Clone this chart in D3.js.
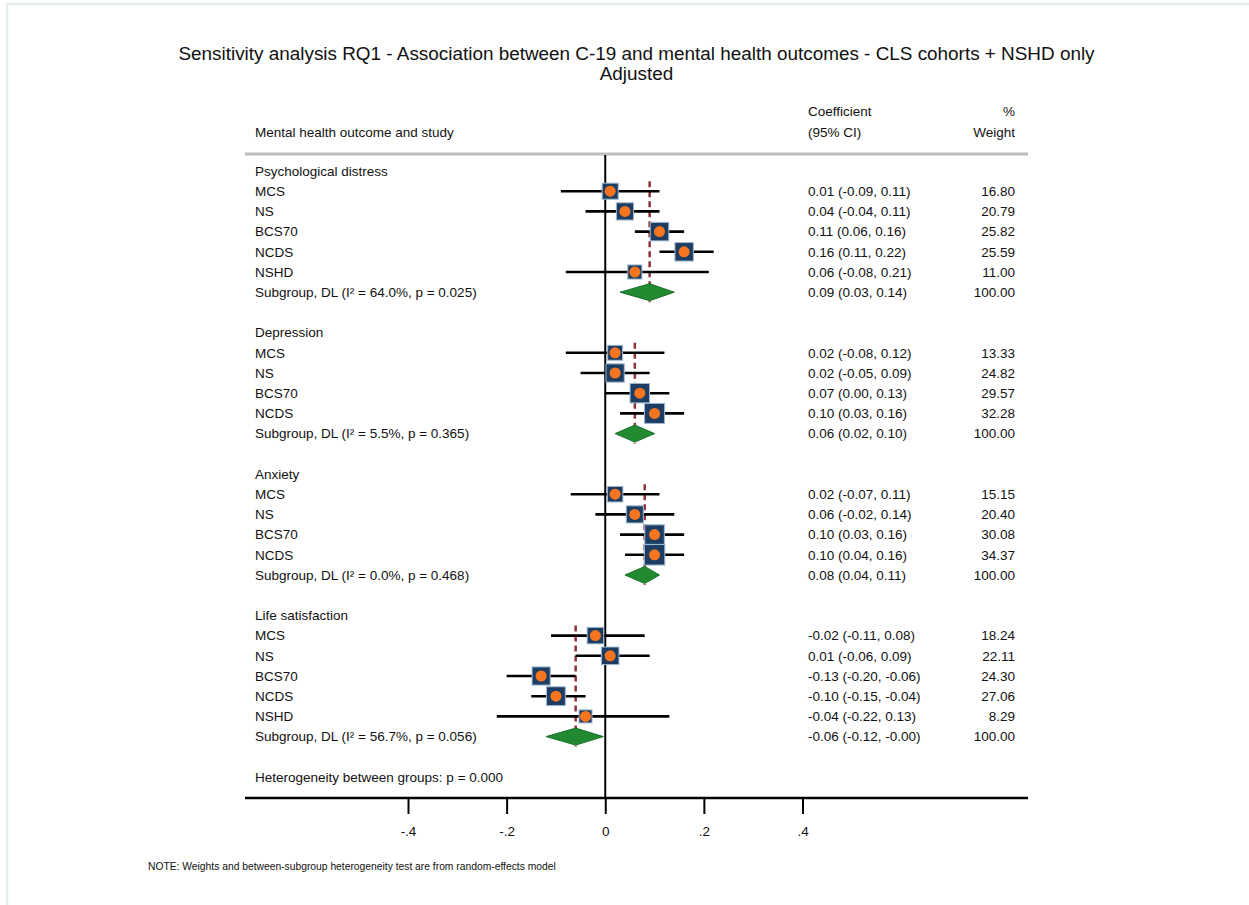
<!DOCTYPE html>
<html>
<head>
<meta charset="utf-8">
<script src="https://cdn.jsdelivr.net/npm/d3@7"></script>
<style>
  html, body { margin: 0; padding: 0; background: #fff; }
  svg { display: block; }
  text { font-family: "Liberation Sans", Arial, Helvetica, sans-serif; fill: #111; }
</style>
</head>
<body>
<svg id="chart" width="1249" height="905"></svg>
<script>
// ---- data -------------------------------------------------------------
const outcomes = ["Psychological distress", "Depression", "Anxiety", "Life satisfaction"];

const studies = [
  ["MCS", "NS", "BCS70", "NCDS", "NSHD"],
  ["MCS", "NS", "BCS70", "NCDS"],
  ["MCS", "NS", "BCS70", "NCDS"],
  ["MCS", "NS", "BCS70", "NCDS", "NSHD"]
];

const coef = [
  [0.01, 0.04, 0.11, 0.16, 0.06],
  [0.02, 0.02, 0.07, 0.10],
  [0.02, 0.06, 0.10, 0.10],
  [-0.02, 0.01, -0.13, -0.10, -0.04]
];

const ciLow = [
  [-0.09, -0.04, 0.06, 0.11, -0.08],
  [-0.08, -0.05, 0.00, 0.03],
  [-0.07, -0.02, 0.03, 0.04],
  [-0.11, -0.06, -0.20, -0.15, -0.22]
];

const ciHigh = [
  [0.11, 0.11, 0.16, 0.22, 0.21],
  [0.12, 0.09, 0.13, 0.16],
  [0.11, 0.14, 0.16, 0.16],
  [0.08, 0.09, -0.06, -0.04, 0.13]
];

const weights = [
  [16.80, 20.79, 25.82, 25.59, 11.00],
  [13.33, 24.82, 29.57, 32.28],
  [15.15, 20.40, 30.08, 34.37],
  [18.24, 22.11, 24.30, 27.06, 8.29]
];

const poolCoef = [0.09, 0.06, 0.08, -0.06];
const poolLow  = [0.03, 0.02, 0.04, -0.12];
const poolHigh = [0.14, 0.10, 0.11, -0.004];
const poolI2   = ["64.0%", "5.5%", "0.0%", "56.7%"];
const poolP    = ["0.025", "0.365", "0.468", "0.056"];

const betweenP = "0.000";

const xTicks = [-0.4, -0.2, 0, 0.2, 0.4];
const xTickLabels = ["-.4", "-.2", "0", ".2", ".4"];

const titleLines = [
  "Sensitivity analysis RQ1 - Association between C-19 and mental health outcomes - CLS cohorts + NSHD only",
  "Adjusted"
];
const note = "NOTE: Weights and between-subgroup heterogeneity test are from random-effects model";

// ---- layout -----------------------------------------------------------
const svg = d3.select("#chart");
const W = 1249, H = 905;

const left = 245, right = 1028;
const labelX = 255, ciTextX = 808, weightX = 1015;
const axisY = 798;

const x = d3.scaleLinear().domain([-0.4, 0.4]).range([408, 802.5]);

// build the list of table rows
const rows = [];
outcomes.forEach((o, g) => {
  rows.push({ type: "header", label: o });
  studies[g].forEach((s, i) => {
    rows.push({ type: "study", g, label: s, est: coef[g][i], lo: ciLow[g][i], hi: ciHigh[g][i], w: weights[g][i] });
  });
  rows.push({ type: "pool", g, label: `Subgroup, DL (I\u00B2 = ${poolI2[g]}, p = ${poolP[g]})`,
              est: poolCoef[g], lo: poolLow[g], hi: poolHigh[g], w: 100 });
  rows.push({ type: "blank" });
});
rows.push({ type: "het", label: `Heterogeneity between groups: p = ${betweenP}` });
rows.forEach((r, i) => r.idx = i);

const y = d3.scaleLinear().domain([0, rows.length - 1]).range([171, 777]);

const boxSide = d3.scaleLinear().domain([Math.sqrt(8.29), Math.sqrt(34.37)]).range([13, 20.5]);
const fmt = v => v.toFixed(2);
const fmtW = v => v.toFixed(2);

const fontSize = 13.5;

// ---- page frame -------------------------------------------------------
svg.append("line").attr("x1", 6).attr("x2", W).attr("y1", 4).attr("y2", 4)
  .attr("stroke", "#e4ecef").attr("stroke-width", 2.5);
svg.append("line").attr("x1", 7).attr("x2", 7).attr("y1", 4).attr("y2", H)
  .attr("stroke", "#e4ecef").attr("stroke-width", 2.5);

// ---- title ------------------------------------------------------------
svg.append("text").attr("x", 636.5).attr("y", 60).attr("text-anchor", "middle")
  .style("font-size", "18.9px").text(titleLines[0]);
svg.append("text").attr("x", 636.5).attr("y", 80).attr("text-anchor", "middle")
  .style("font-size", "18.9px").text(titleLines[1]);

// ---- column headers ---------------------------------------------------
const hdr = svg.append("g").style("font-size", fontSize + "px");
hdr.append("text").attr("x", labelX).attr("y", 132).attr("dy", "0.35em").text("Mental health outcome and study");
hdr.append("text").attr("x", ciTextX).attr("y", 111).attr("dy", "0.35em").text("Coefficient");
hdr.append("text").attr("x", ciTextX).attr("y", 132).attr("dy", "0.35em").text("(95% CI)");
hdr.append("text").attr("x", weightX).attr("y", 111).attr("dy", "0.35em").attr("text-anchor", "end").text("%");
hdr.append("text").attr("x", weightX).attr("y", 132).attr("dy", "0.35em").attr("text-anchor", "end").text("Weight");

svg.append("line").attr("x1", left).attr("x2", right).attr("y1", 154).attr("y2", 154)
  .attr("stroke", "#bdbdbd").attr("stroke-width", 3);

// ---- zero line --------------------------------------------------------
svg.append("line").attr("x1", x(0)).attr("x2", x(0)).attr("y1", 155).attr("y2", axisY)
  .attr("stroke", "#000").attr("stroke-width", 2);

// ---- pooled estimate reference lines ------------------------------------
outcomes.forEach((o, g) => {
  const first = rows.find(r => r.type === "study" && r.g === g);
  const pool = rows.find(r => r.type === "pool" && r.g === g);
  svg.append("line")
    .attr("x1", x(poolCoef[g])).attr("x2", x(poolCoef[g]))
    .attr("y1", y(first.idx) - 10).attr("y2", y(pool.idx) + 10)
    .attr("stroke", "#8e3438").attr("stroke-width", 2.5)
    .attr("stroke-dasharray", "6,4");
});

// ---- study rows: CI line, weighted box, point -------------------------
const studyRows = rows.filter(r => r.type === "study");
const marks = svg.append("g");
marks.selectAll("line.ci").data(studyRows).join("line").attr("class", "ci")
  .attr("x1", d => x(d.lo)).attr("x2", d => x(d.hi))
  .attr("y1", d => y(d.idx)).attr("y2", d => y(d.idx))
  .attr("stroke", "#000").attr("stroke-width", 2.6);
marks.selectAll("rect.box").data(studyRows).join("rect").attr("class", "box")
  .attr("x", d => x(d.est) - boxSide(Math.sqrt(d.w)) / 2)
  .attr("y", d => y(d.idx) - boxSide(Math.sqrt(d.w)) / 2)
  .attr("width", d => boxSide(Math.sqrt(d.w)))
  .attr("height", d => boxSide(Math.sqrt(d.w)))
  .attr("fill", "#1d3d63").attr("stroke", "#9fbad3").attr("stroke-width", 1);
marks.selectAll("circle.pt").data(studyRows).join("circle").attr("class", "pt")
  .attr("cx", d => x(d.est)).attr("cy", d => y(d.idx)).attr("r", 5.5)
  .attr("fill", "#f7751f");

// ---- pooled diamonds --------------------------------------------------
const poolRows = rows.filter(r => r.type === "pool");
marks.selectAll("path.diamond").data(poolRows).join("path").attr("class", "diamond")
  .attr("d", d => {
    const cy = y(d.idx), h = 8.5;
    return `M${x(d.lo)},${cy} L${x(d.est)},${cy - h} L${x(d.hi)},${cy} L${x(d.est)},${cy + h} Z`;
  })
  .attr("fill", "#218a31").attr("stroke", "#17702a").attr("stroke-width", 1);

// ---- text columns -----------------------------------------------------
const txt = svg.append("g").style("font-size", fontSize + "px");
txt.selectAll("text.lab").data(rows.filter(r => r.label)).join("text").attr("class", "lab")
  .attr("x", labelX).attr("y", d => y(d.idx)).attr("dy", "0.35em").text(d => d.label);

const valRows = rows.filter(r => r.type === "study" || r.type === "pool");
txt.selectAll("text.ci").data(valRows).join("text").attr("class", "ci")
  .attr("x", ciTextX).attr("y", d => y(d.idx)).attr("dy", "0.35em")
  .text(d => `${fmt(d.est)} (${fmt(d.lo)}, ${fmt(d.hi)})`);
txt.selectAll("text.w").data(valRows).join("text").attr("class", "w")
  .attr("x", weightX).attr("y", d => y(d.idx)).attr("dy", "0.35em").attr("text-anchor", "end")
  .text(d => fmtW(d.w));

// ---- x axis -----------------------------------------------------------
svg.append("line").attr("x1", left).attr("x2", right).attr("y1", axisY).attr("y2", axisY)
  .attr("stroke", "#000").attr("stroke-width", 2.6);
const axis = svg.append("g").attr("transform", `translate(0,${axisY})`)
  .call(d3.axisBottom(x).tickValues(xTicks).tickSize(16).tickPadding(12)
        .tickFormat((d, i) => xTickLabels[i]));
axis.select(".domain").remove();
axis.selectAll(".tick line").attr("stroke", "#000").attr("stroke-width", 2);
axis.selectAll(".tick text").style("font-size", fontSize + "px")
  .style("font-family", "'Liberation Sans', Arial, sans-serif").attr("fill", "#111");

// ---- note -------------------------------------------------------------
svg.append("text").attr("x", 148).attr("y", 866).attr("dy", "0.35em")
  .style("font-size", "10.3px").text(note);
</script>
</body>
</html>
